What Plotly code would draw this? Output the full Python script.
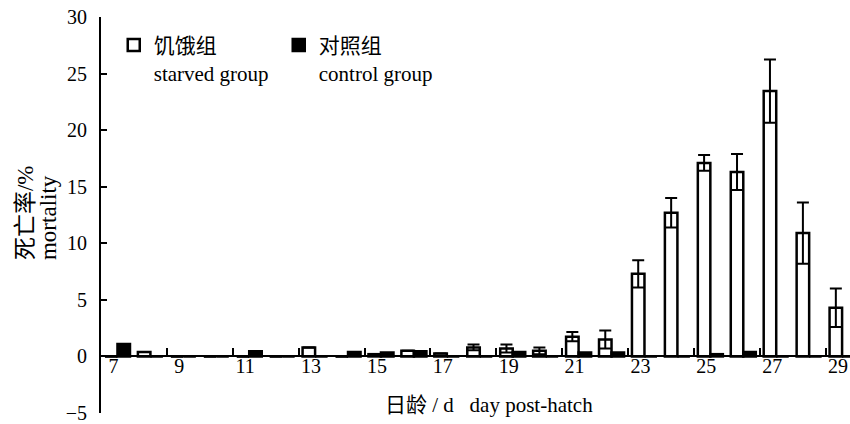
import plotly.graph_objects as go

days = list(range(7, 30))
starved = [0, 0.4, 0, 0, 0, 0, 0.8, 0, 0.2, 0.5, 0.25, 0.8, 0.7, 0.5, 1.75, 1.5,
           7.3, 12.7, 17.1, 16.3, 23.45, 10.9, 4.3]
starved_err = [None, None, None, None, None, None, None, None, None, None, None,
               0.25, 0.35, 0.3, 0.4, 0.8, 1.2, 1.3, 0.7, 1.6, 2.8, 2.7, 1.7]
control = [1.1, 0, 0, 0, 0.45, 0, 0, 0.4, 0.35, 0.45, 0, 0, 0.4, 0, 0.35, 0.35,
           0, 0, 0.2, 0.4, 0, 0, 0]
x_tick_vals = list(range(7, 30, 2))
x_tick_text = [str(v) for v in x_tick_vals]
x_boundaries = [d + 1.5 for d in range(7, 28, 2)]
y_ticks = list(range(-5, 31, 5))

LAT = "Liberation Serif, Times New Roman, Noto Sans CJK SC"

fig = go.Figure()
fig.add_trace(go.Bar(
    x=days, y=starved, name="饥饿组<br>starved group",
    marker=dict(color="white", line=dict(color="black", width=2.5)),
    error_y=dict(type="data", array=starved_err, visible=True, color="black",
                 thickness=2, width=6, symmetric=True),
))
fig.add_trace(go.Bar(
    x=days, y=control, name="对照组<br>control group",
    marker=dict(color="black", line=dict(color="black", width=2.5)),
))

fig.update_layout(
    width=850, height=424,
    margin=dict(l=101, r=0, t=17, b=11),
    paper_bgcolor="white", plot_bgcolor="white",
    barmode="group", bargap=0.24, bargroupgap=0,
    font=dict(family=LAT, size=20, color="black"),
    showlegend=True,
    legend=dict(orientation="h", x=0.017, y=0.98, xanchor="left", yanchor="top",
                valign="top", entrywidth=120, entrywidthmode="pixels",
                font=dict(family=LAT, size=21, color="black"),
                bgcolor="rgba(0,0,0,0)", tracegroupgap=0, itemwidth=30),
    xaxis=dict(
        range=[6.5, 29.24], anchor="free", position=5 / 35,
        showline=True, linecolor="black", linewidth=2, automargin=False,
        tickvals=x_tick_vals, ticktext=x_tick_text, ticklabeloverflow="allow",
        ticks="inside", ticklen=0, ticklabelshift=-4, ticklabelstandoff=-8,
        minor=dict(tickvals=x_boundaries, ticks="inside", ticklen=7,
                   tickwidth=2, tickcolor="black"),
        showgrid=False, zeroline=False,
        tickfont=dict(family=LAT, size=20, color="black"),
    ),
    yaxis=dict(
        range=[-5, 30], tickvals=y_ticks, ticks="inside", ticklen=6,
        tickwidth=2, tickcolor="black", automargin=False, ticklabeloverflow="allow",
        showline=True, linecolor="black", linewidth=2,
        showgrid=False, zeroline=False, ticklabelstandoff=8,
        tickfont=dict(family=LAT, size=20, color="black"),
    ),
    annotations=[
        dict(text="日龄 / d\u00a0\u00a0 day post-hatch", xref="paper", yref="paper",
             x=(489 - 101) / 749, y=0.02, xanchor="center", yanchor="middle",
             showarrow=False, font=dict(family=LAT, size=21, color="black")),
        dict(text="死亡率/%", xref="paper", yref="y", x=(25 - 101) / 749, y=8.3,
             xanchor="center", yanchor="bottom", textangle=-90, showarrow=False,
             font=dict(family=LAT, size=23, color="black")),
        dict(text="mortality", xref="paper", yref="y", x=(48 - 101) / 749, y=8.3,
             xanchor="center", yanchor="bottom", textangle=-90, showarrow=False,
             font=dict(family=LAT, size=23, color="black")),
    ],
)

fig.write_html(
    "out.html",
    config={"displayModeBar": False},
    post_script="document.body.style.margin='0';document.body.style.overflow='hidden';",
)
